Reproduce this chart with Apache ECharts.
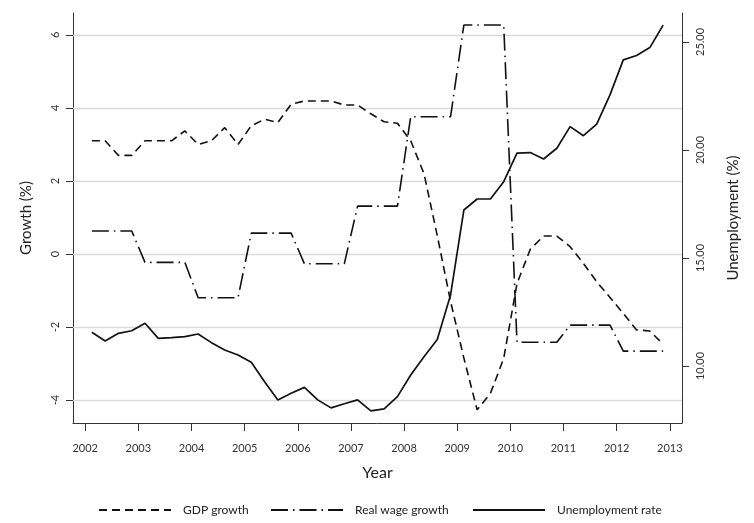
<!DOCTYPE html>
<html>
<head>
<meta charset="utf-8">
<script src="https://cdn.jsdelivr.net/npm/echarts@6/dist/echarts.min.js"></script>
<style>html,body{margin:0;padding:0;background:#fff}#c{width:754px;height:523px}</style>
</head>
<body>
<div id="c"></div>
<script>
// Quarterly observations 2002Q1 .. 2012Q4
var quarters = [
 '2002Q1','2002Q2','2002Q3','2002Q4','2003Q1','2003Q2','2003Q3','2003Q4',
 '2004Q1','2004Q2','2004Q3','2004Q4','2005Q1','2005Q2','2005Q3','2005Q4',
 '2006Q1','2006Q2','2006Q3','2006Q4','2007Q1','2007Q2','2007Q3','2007Q4',
 '2008Q1','2008Q2','2008Q3','2008Q4','2009Q1','2009Q2','2009Q3','2009Q4',
 '2010Q1','2010Q2','2010Q3','2010Q4','2011Q1','2011Q2','2011Q3','2011Q4',
 '2012Q1','2012Q2','2012Q3','2012Q4'];

var gdpGrowth = [
 3.10, 3.10, 2.70, 2.70, 3.10, 3.10, 3.10, 3.37,
 3.00, 3.10, 3.46, 3.00, 3.51, 3.69, 3.60, 4.10,
 4.19, 4.19, 4.19, 4.08, 4.08, 3.84, 3.62, 3.58,
 3.10, 2.20, 0.50, -1.30, -2.85, -4.27, -3.82, -2.86,
 -0.81, 0.13, 0.49, 0.49, 0.20, -0.26, -0.76, -1.19,
 -1.63, -2.08, -2.11, -2.47];

var realWageGrowth = [
 0.63, 0.63, 0.63, 0.63, -0.23, -0.23, -0.23, -0.23,
 -1.20, -1.20, -1.20, -1.20, 0.57, 0.57, 0.57, 0.57,
 -0.27, -0.27, -0.27, -0.27, 1.31, 1.31, 1.31, 1.31,
 3.76, 3.76, 3.76, 3.76, 6.27, 6.27, 6.27, 6.27,
 -2.42, -2.42, -2.42, -2.42, -1.95, -1.95, -1.95, -1.95,
 -2.66, -2.66, -2.66, -2.66];

var unemploymentRate = [
 11.56, 11.16, 11.51, 11.63, 11.98, 11.28, 11.31, 11.36,
 11.48, 11.08, 10.74, 10.51, 10.17, 9.27, 8.43, 8.74,
 9.01, 8.43, 8.06, 8.25, 8.43, 7.92, 8.01, 8.58,
 9.58, 10.43, 11.23, 13.29, 17.22, 17.73, 17.73, 18.53,
 19.85, 19.88, 19.58, 20.08, 21.08, 20.66, 21.20, 22.55,
 24.17, 24.37, 24.74, 25.78];

var yearTicks = [2002,2003,2004,2005,2006,2007,2008,2009,2010,2011,2012,2013];
var growthTicks = [-4,-2,0,2,4,6];
var unempTicks = [10,15,20,25];

function qToYear(q){ var y=+q.slice(0,4), n=+q.slice(5); return y + (n-0.5)/4; }
function pairs(vals){ return quarters.map(function(q,i){ return [qToYear(q), vals[i]]; }); }

var FONT = 'Lato';
var chart = echarts.init(document.getElementById('c'), null, {renderer:'canvas'});
var axisLineStyle = {color:'#333', width:1};
function legendAt(left, name){
  return {
    left: left, top: 499, itemWidth: 72, itemHeight: 10,
    data:[name],
    itemStyle:{opacity:0},
    textStyle:{fontFamily:FONT, fontSize:12, color:'#222', padding:[0,0,0,7]},
    selectedMode:false
  };
}
chart.setOption({
  animation:false,
  backgroundColor:'#fff',
  textStyle:{fontFamily:FONT},
  grid:{left:73, right:72, top:13, bottom:100, containLabel:false},
  legend:[
    legendAt(93, 'GDP growth'),
    legendAt(265, 'Real wage growth'),
    legendAt(467, 'Unemployment rate')
  ],
  xAxis:{
    type:'value', min:2001.77, max:2013.23,
    name:'Year', nameLocation:'middle', nameGap:42,
    nameTextStyle:{fontFamily:FONT, fontSize:16, color:'#222'},
    axisLine:{show:true, onZero:false, lineStyle:axisLineStyle},
    axisTick:{show:true, length:8, customValues:yearTicks, lineStyle:axisLineStyle},
    axisLabel:{customValues:yearTicks, margin:20, fontFamily:FONT, fontSize:11, color:'#333',
      formatter:function(v){return String(v);}},
    splitLine:{show:false}
  },
  yAxis:[
    {type:'value', min:-4.63, max:6.6, position:'left',
     name:'Growth (%)', nameLocation:'middle', nameGap:39,
     nameTextStyle:{fontFamily:FONT, fontSize:15, color:'#222'},
     axisLine:{show:true, onZero:false, lineStyle:axisLineStyle},
     axisTick:{show:true, length:7, customValues:growthTicks, lineStyle:axisLineStyle},
     axisLabel:{customValues:growthTicks, rotate:90, margin:12, fontFamily:FONT, fontSize:11, color:'#333',
       formatter:function(v){return String(v);}},
     splitLine:{show:false}},
    {type:'value', min:7.36, max:26.34, position:'right',
     name:'Unemployment (%)', nameLocation:'middle', nameGap:44,
     nameTextStyle:{fontFamily:FONT, fontSize:15, color:'#222'},
     axisLine:{show:true, onZero:false, lineStyle:axisLineStyle},
     axisTick:{show:true, length:7, customValues:unempTicks, lineStyle:axisLineStyle},
     axisLabel:{customValues:unempTicks, rotate:90, margin:13, fontFamily:FONT, fontSize:11, color:'#333',
       formatter:function(v){return v.toFixed(2);}},
     splitLine:{show:false}}
  ],
  series:[
    {name:'GDP growth', type:'line', yAxisIndex:0, symbol:'none', z:3,
     data:pairs(gdpGrowth),
     lineStyle:{color:'#111', width:1.6, type:[8,5]},
     itemStyle:{color:'#111'},
     markLine:{silent:true, symbol:['none','none'], z:1, label:{show:false},
       lineStyle:{color:'#dadada', width:1.3, type:'solid'},
       emphasis:{disabled:true},
       data:growthTicks.map(function(v){return {yAxis:v};})}},
    {name:'Real wage growth', type:'line', yAxisIndex:0, symbol:'none', z:3,
     data:pairs(realWageGrowth),
     lineStyle:{color:'#111', width:1.6, type:[17,5,1.5,5]},
     itemStyle:{color:'#111'}},
    {name:'Unemployment rate', type:'line', yAxisIndex:1, symbol:'none', z:3,
     data:pairs(unemploymentRate),
     lineStyle:{color:'#111', width:1.7, type:'solid'},
     itemStyle:{color:'#111'}}
  ]
});
</script>
</body>
</html>
